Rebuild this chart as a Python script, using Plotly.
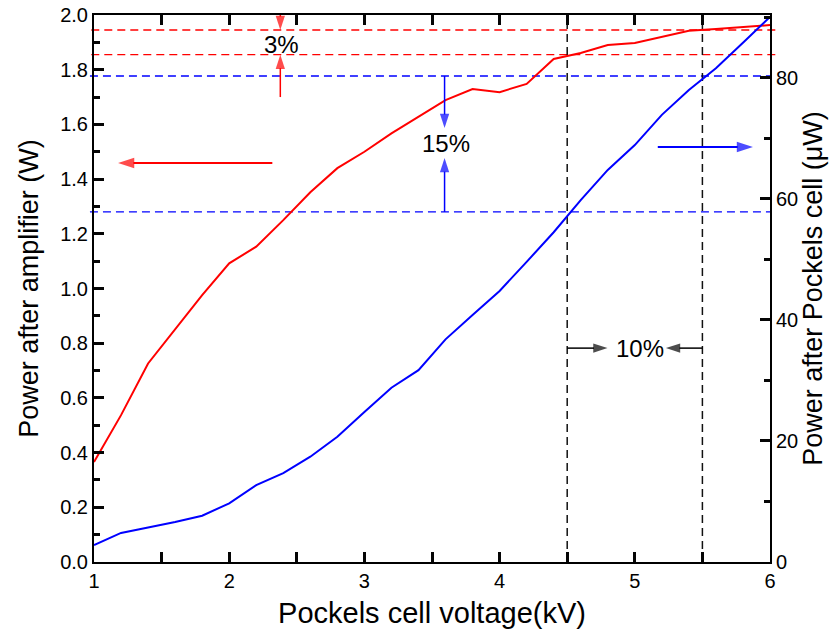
import plotly.graph_objects as go

# ---------------- data ----------------
voltage_kV = [1.0, 1.2, 1.4, 1.6, 1.8, 2.0, 2.2, 2.4, 2.6, 2.8, 3.0, 3.2, 3.4,
              3.6, 3.8, 4.0, 4.2, 4.4, 4.6, 4.8, 5.0, 5.2, 5.4, 5.6, 5.8, 6.0]
amp_power_W = [0.366, 0.537, 0.726, 0.852, 0.976, 1.092, 1.153, 1.250, 1.352,
               1.440, 1.500, 1.567, 1.628, 1.689, 1.729, 1.718, 1.748, 1.839,
               1.861, 1.890, 1.898, 1.920, 1.942, 1.949, 1.956, 1.963]
pockels_power_uW = [2.8, 4.8, 5.7, 6.6, 7.65, 9.7, 12.7, 14.7, 17.4, 20.7, 24.8,
                    28.8, 31.7, 36.8, 40.8, 44.8, 49.6, 54.5, 59.8, 64.8, 68.9,
                    73.9, 78.0, 81.6, 85.8, 90.1]

x_range = [1, 6]
y_left_range = [0, 2.0]
y_right_range = [0, 90.4]

# reference levels (left-axis units) and voltages
red_levels = [1.945, 1.855]
blue_levels = [1.777, 1.28]
volt_levels = [4.5, 5.5]

# annotation arrows: (x_tail, y_tail, x_head, y_head, colour, width, head size)
arrows = [
    (2.319, 1.459, 1.178, 1.459, "#ff0000", 2.0, 17),   # red -> left axis
    (5.170, 1.517, 5.874, 1.517, "#0000ff", 2.0, 17),   # blue -> right axis
    (2.378, 2.02, 2.378, 1.945, "#ff0000", 1.5, 15),    # 3% top
    (2.378, 1.70, 2.378, 1.855, "#ff0000", 1.5, 15),    # 3% bottom
    (3.593, 1.777, 3.593, 1.587, "#0000ff", 1.5, 15),   # 15% top
    (3.593, 1.28, 3.593, 1.477, "#0000ff", 1.5, 15),    # 15% bottom
    (4.5, 0.782, 4.798, 0.782, "#000000", 1.5, 15),     # 10% left
    (5.5, 0.782, 5.230, 0.782, "#000000", 1.5, 15),     # 10% right
]
labels = [("3%", 2.385, 1.892), ("15%", 3.60, 1.529), ("10%", 5.04, 0.782)]

FONT = "Arial, Liberation Sans, sans-serif"
TICKCOL = "#050505"

fig = go.Figure()

fig.add_trace(go.Scatter(x=voltage_kV, y=amp_power_W, mode="lines",
                         line=dict(color="#ff0000", width=2), showlegend=False,
                         yaxis="y"))
fig.add_trace(go.Scatter(x=voltage_kV, y=pockels_power_uW, mode="lines",
                         line=dict(color="#0000ff", width=2), showlegend=False,
                         yaxis="y2"))

for xt, yt, xh, yh, col, w, hs in arrows:
    fig.add_trace(go.Scatter(
        x=[xt, xh], y=[yt, yh], mode="lines+markers", yaxis="y",
        line=dict(color=col, width=w),
        marker=dict(symbol="arrow", size=[0, hs], angleref="previous",
                    color=col, line=dict(width=0)),
        showlegend=False, hoverinfo="skip", cliponaxis=False))

shapes = []
for lv in red_levels:
    shapes.append(dict(type="line", xref="paper", yref="y", x0=-0.004, x1=1.01,
                       y0=lv, y1=lv, line=dict(color="#ff0000", width=1.4, dash="8px,5px"),
                       layer="below"))
for lv in blue_levels:
    shapes.append(dict(type="line", xref="paper", yref="y", x0=-0.006, x1=1.0,
                       y0=lv, y1=lv, line=dict(color="#0000ff", width=1.4, dash="8px,5px"),
                       layer="below"))
for v in volt_levels:
    shapes.append(dict(type="line", xref="x", yref="paper", x0=v, x1=v,
                       y0=0, y1=1, line=dict(color="#111111", width=1.5, dash="8px,5px"),
                       layer="below"))

annotations = [dict(text=t, x=x, y=y, xref="x", yref="y", showarrow=False,
                    font=dict(family=FONT, size=24, color="black"))
               for t, x, y in labels]

TICKFONT = dict(family=FONT, size=20, color="black")

fig.update_layout(
    width=838, height=643,
    margin=dict(l=94, r=68, t=15, b=81),
    paper_bgcolor="white", plot_bgcolor="white",
    font=dict(family=FONT, color="black"),
    shapes=shapes, annotations=annotations,
    xaxis=dict(range=x_range, dtick=1, tick0=1, showgrid=False, zeroline=False,
               automargin=False,
               showline=True, linecolor="black", linewidth=2, mirror="allticks",
               ticks="inside", ticklen=10, tickwidth=2.5, tickcolor=TICKCOL,
               tickfont=TICKFONT,
               minor=dict(dtick=0.5, ticks="inside", ticklen=6, tickwidth=2.5, tickcolor=TICKCOL),
               title=dict(text="Pockels cell voltage(kV)", font=dict(family=FONT, size=29),
                          standoff=12)),
    yaxis=dict(range=y_left_range, dtick=0.2, tick0=0, tickformat=".1f", showgrid=False,
               automargin=False,
               zeroline=False, showline=True, linecolor="black", linewidth=2,
               ticks="inside", ticklen=10, tickwidth=2.5, tickcolor=TICKCOL,
               tickfont=TICKFONT,
               minor=dict(dtick=0.1, ticks="inside", ticklen=6, tickwidth=2.5, tickcolor=TICKCOL),
               title=dict(text="Power after amplifier (W)", font=dict(family=FONT, size=27),
                          standoff=14)),
    yaxis2=dict(range=y_right_range, overlaying="y", side="right", dtick=20, tick0=0,
                automargin=False,
                showgrid=False, zeroline=False, showline=True, linecolor="black", linewidth=2,
                ticks="inside", ticklen=10, tickwidth=2.5, tickcolor=TICKCOL,
                tickfont=TICKFONT,
                minor=dict(dtick=10, ticks="inside", ticklen=6, tickwidth=2.5, tickcolor=TICKCOL),
                title=dict(text="Power after Pockels cell (μW)", font=dict(family=FONT, size=27),
                           standoff=4)),
)

fig.write_html("out.html")
